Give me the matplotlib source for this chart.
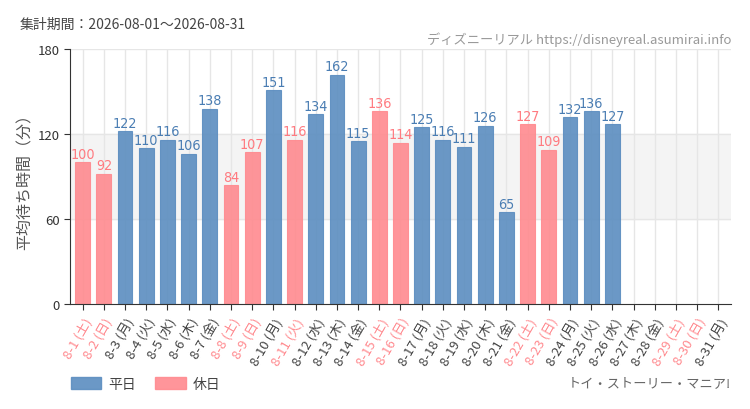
import numpy as np
import matplotlib.pyplot as plt
from matplotlib.patches import Patch
from matplotlib import font_manager

plt.rcParams['font.family'] = ['Noto Sans CJK JP', 'DejaVu Sans']

days = list(range(1, 32))
weekdays = ['土', '日', '月', '火', '水', '木', '金']
labels = [f'8-{d} ({weekdays[(d - 1) % 7]})' for d in days]
holidays = [1, 2, 8, 9, 11, 15, 16, 22, 23, 29, 30]
values = [100, 92, 122, 110, 116, 106, 138, 84, 107, 151, 116, 134, 162, 115,
          136, 114, 125, 116, 111, 126, 65, 127, 109, 132, 136, 127,
          None, None, None, None, None]

blue = '#5b8dc0'
pink = '#ff8a8f'
blue_txt = '#4a7db3'
pink_txt = '#ff7a80'

# condensed font for the numbers, if available
names = {f.name for f in font_manager.fontManager.ttflist}
narrow = [n for n in ['DejaVu Sans Condensed', 'Liberation Sans Narrow'] if n in names]
num_family = narrow + ['DejaVu Sans']

fig = plt.figure(figsize=(7.5, 4.1), dpi=100)
ax = fig.add_axes([0.0933, 0.256, 0.8814, 0.622])

x = np.arange(len(days))
ax.axhspan(60, 120, color='#f4f4f4', zorder=0)
for xi in x:
    ax.axvline(xi, color='#e6e6e6', lw=1, zorder=0.5)
for yv in [60, 120, 180]:
    ax.axhline(yv, color='#e6e6e6', lw=1, zorder=0.5)

for xi, d, v in zip(x, days, values):
    if v is None:
        continue
    hol = d in holidays
    c = pink if hol else blue
    ax.bar(xi, v, width=0.7, color=c, alpha=0.9, edgecolor=c, lw=0.8, zorder=2)
    ax.text(xi, v + 1.0, str(v), ha='center', va='bottom', fontsize=10.3,
            family=num_family, stretch='condensed',
            color=pink_txt if hol else blue_txt, zorder=3)

ax.set_xlim(-0.6, len(days) - 0.4)
ax.set_ylim(0, 180)
ax.set_yticks([0, 60, 120, 180])
ax.tick_params(axis='y', labelsize=9.5, colors='#333333', length=4)
ax.set_xticks(x)
ax.set_xticklabels(labels, rotation=60, ha='right', rotation_mode='anchor', fontsize=9.5)
ax.tick_params(axis='x', length=4, colors='#333333', pad=4)
for lab, d in zip(ax.get_xticklabels(), days):
    lab.set_color(pink if d in holidays else '#444444')
for s in ['top', 'right']:
    ax.spines[s].set_visible(False)
ax.spines['left'].set_color('#333333')
ax.spines['bottom'].set_color('#333333')
ax.set_ylabel('平均待ち時間（分）', fontsize=11.5, color='#555555', labelpad=3)

fig.text(20 / 750, 1 - 25 / 410, '集計期間：2026-08-01～2026-08-31', fontsize=10,
         color='#444444', va='center')
fig.text(731 / 750, 1 - 40 / 410, 'ディズニーリアル https://disneyreal.asumirai.info',
         fontsize=9.5, color='#999999', ha='right', va='center',
         family=narrow + ['Noto Sans CJK JP'], stretch='condensed')
fig.text(731 / 750, 1 - 384 / 410, 'トイ・ストーリー・マニア!', fontsize=9.5,
         color='#666666', ha='right', va='center')

handles = [Patch(color=blue, alpha=0.9), Patch(color=pink, alpha=0.9)]
fig.legend(handles, ['平日', '休日'], loc='center left', bbox_to_anchor=(58 / 750, 1 - 385 / 410),
           ncol=2, frameon=False, fontsize=10, handlelength=2.2, handleheight=0.9,
           handletextpad=0.5, columnspacing=1.4, labelcolor='#444444')

fig.savefig('out.png', dpi=100)
